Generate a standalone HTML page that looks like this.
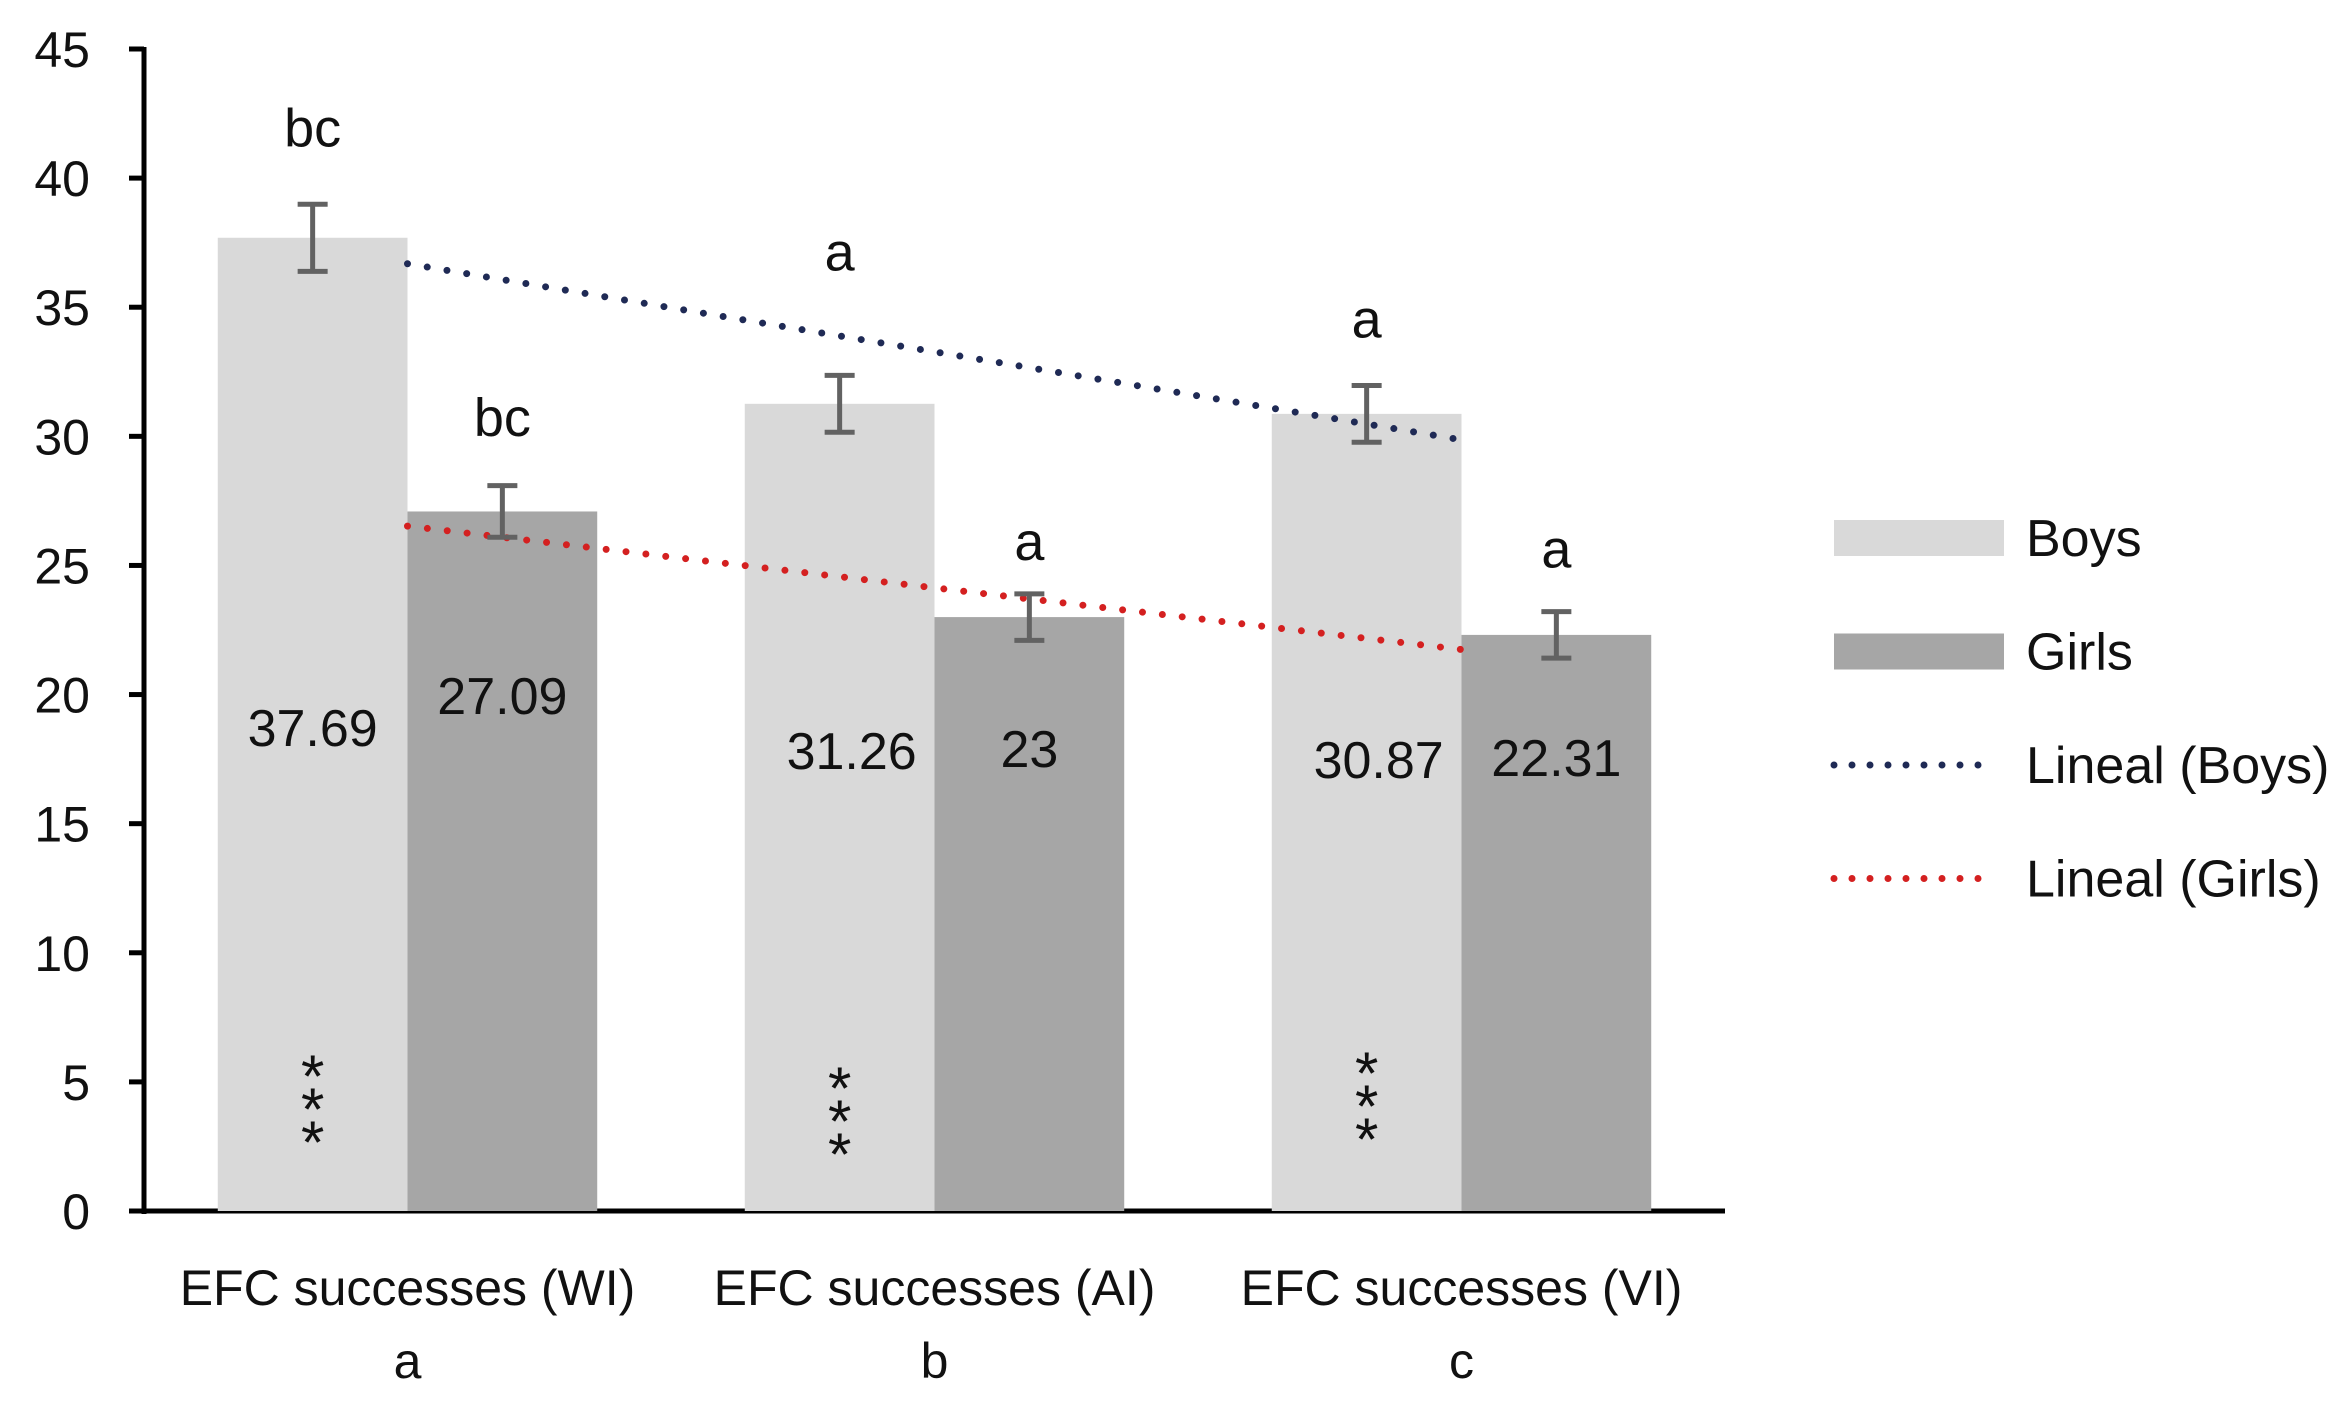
<!DOCTYPE html>
<html><head><meta charset="utf-8"><style>
html,body{margin:0;padding:0;background:#fff;}
svg{display:block;font-family:"Liberation Sans",sans-serif;}
</style></head><body>
<svg id="chart" width="2342" height="1411" viewBox="0 0 2342 1411" xmlns="http://www.w3.org/2000/svg">
<g id="axes"></g><g id="bars"></g><g id="overlay"></g><g id="legend"></g>
</svg>
<script>
const categories = ["EFC successes (WI)", "EFC successes (AI)", "EFC successes (VI)"];
const catLetters = ["a", "b", "c"];
const boys = [37.69, 31.26, 30.87];
const girls = [27.09, 23, 22.31];
const boysErr = [1.3, 1.1, 1.1];
const girlsErr = [1.0, 0.9, 0.9];
const boysLetters = ["bc", "a", "a"];
const girlsLetters = ["bc", "a", "a"];
const boysLetterVal = [41.8, 37.0, 34.4];
const girlsLetterVal = [30.6, 25.8, 25.5];
const yTicks = [0, 5, 10, 15, 20, 25, 30, 35, 40, 45];

const NS = "http://www.w3.org/2000/svg";
const X0 = 144, X1 = 1725, Y0 = 1211, YTOP = 49, YMAX = 45;
const catW = (X1 - X0) / categories.length;
const barW = catW * 0.36;
const boysLabelY = [746, 769, 778];
const girlsLabelY = [714, 767, 776];
const starOff = [0, 12, -3];
function y(v){ return Y0 - (v / YMAX) * (Y0 - YTOP); }
function cx(i){ return X0 + catW * (i + 0.5); }
function mk(tag, attrs, parent, text){
  const e = document.createElementNS(NS, tag);
  for (const k in attrs) e.setAttribute(k, attrs[k]);
  if (text !== undefined) e.textContent = text;
  parent.appendChild(e); return e;
}
const axes = document.getElementById('axes');
const bars = document.getElementById('bars');
const overlay = document.getElementById('overlay');
const legend = document.getElementById('legend');

categories.forEach((c, i) => {
  const b = mk('rect', {x: cx(i) - barW, y: y(boys[i]), width: barW, height: Y0 - y(boys[i]), fill: '#d9d9d9'}, bars);
  
  
  const g = mk('rect', {x: cx(i), y: y(girls[i]), width: barW, height: Y0 - y(girls[i]), fill: '#a6a6a6'}, bars);
  
  
});

const yAxis = mk('line', {x1: X0, y1: YTOP - 2, x2: X0, y2: Y0 + 3, stroke: '#000', 'stroke-width': 5}, axes);


const xAxis = mk('line', {x1: X0 - 15, y1: Y0, x2: X1, y2: Y0, stroke: '#000', 'stroke-width': 5}, axes);


yTicks.forEach(t => {
  mk('line', {x1: X0 - 15, y1: y(t), x2: X0, y2: y(t), stroke: '#000', 'stroke-width': 5}, axes);
  const l = mk('text', {x: 90, y: y(t) + 18, 'text-anchor': 'end', 'font-size': 50, fill: '#111'}, axes, String(t));
  
  
});
categories.forEach((c, i) => {
  const l = mk('text', {x: cx(i), y: 1305, 'text-anchor': 'middle', 'font-size': 50, fill: '#111'}, axes, c);
  
  
  const s = mk('text', {x: cx(i), y: 1378, 'text-anchor': 'middle', 'font-size': 50, fill: '#111'}, axes, catLetters[i]);
  
  
});

function trend(vals){
  const n = vals.length, xs = vals.map((v, i) => i + 1);
  const mx = xs.reduce((a, b) => a + b) / n, my = vals.reduce((a, b) => a + b) / n;
  let num = 0, den = 0;
  xs.forEach((xv, i) => { num += (xv - mx) * (vals[i] - my); den += (xv - mx) ** 2; });
  const s = num / den;
  return [my + s * (1 - mx), my + s * (n - mx)];
}
const tb = trend(boys), tg = trend(girls);
const lb = mk('line', {x1: cx(0), y1: y(tb[0]), x2: cx(categories.length - 1), y2: y(tb[1]), stroke: '#1f2a55', 'stroke-width': 7, 'stroke-linecap': 'round', 'stroke-dasharray': '0 20'}, overlay);


const lg = mk('line', {x1: cx(0), y1: y(tg[0]), x2: cx(categories.length - 1), y2: y(tg[1]), stroke: '#d42020', 'stroke-width': 7, 'stroke-linecap': 'round', 'stroke-dasharray': '0 20'}, overlay);



function errBar(xc, v, e, name){
  const g = mk('g', {stroke: '#626262', 'stroke-width': 5}, overlay);
  
  
  mk('line', {x1: xc, y1: y(v + e), x2: xc, y2: y(v - e)}, g);
  mk('line', {x1: xc - 15, y1: y(v + e), x2: xc + 15, y2: y(v + e)}, g);
  mk('line', {x1: xc - 15, y1: y(v - e), x2: xc + 15, y2: y(v - e)}, g);
}
categories.forEach((c, i) => {
  const bx = cx(i) - barW / 2, gx = cx(i) + barW / 2;
  errBar(bx, boys[i], boysErr[i], 'error-bar-boys');
  errBar(gx, girls[i], girlsErr[i], 'error-bar-girls');
  let t = mk('text', {x: bx, y: y(boysLetterVal[i]) + 15, 'text-anchor': 'middle', 'font-size': 54, fill: '#111'}, overlay, boysLetters[i]);
  
  
  t = mk('text', {x: gx, y: y(girlsLetterVal[i]) + 15, 'text-anchor': 'middle', 'font-size': 54, fill: '#111'}, overlay, girlsLetters[i]);
  
  
  t = mk('text', {x: bx + (i ? 12 : 0), y: boysLabelY[i], 'text-anchor': 'middle', 'font-size': 52, fill: '#111'}, overlay, String(boys[i]));
  
  
  t = mk('text', {x: gx, y: girlsLabelY[i], 'text-anchor': 'middle', 'font-size': 52, fill: '#111'}, overlay, String(girls[i]));
  
  
  const st = mk('g', {}, overlay);
  
  
  for (let k = 0; k < 3; k++) mk('text', {x: bx, y: 1097 + starOff[i] + k * 33, 'text-anchor': 'middle', 'font-size': 60, fill: '#111'}, st, '*');
});

const items = [
  {label: 'Boys', type: 'rect', color: '#d9d9d9'},
  {label: 'Girls', type: 'rect', color: '#a6a6a6'},
  {label: 'Lineal (Boys)', type: 'line', color: '#1f2a55'},
  {label: 'Lineal (Girls)', type: 'line', color: '#d42020'}
];
items.forEach((it, k) => {
  const yc = 538 + k * 113.5;
  const g = mk('g', {}, legend);
  
  
  if (it.type === 'rect') mk('rect', {x: 1834, y: yc - 18, width: 170, height: 36, fill: it.color}, g);
  else mk('line', {x1: 1834, y1: yc, x2: 1996, y2: yc, stroke: it.color, 'stroke-width': 7, 'stroke-linecap': 'round', 'stroke-dasharray': '0 18'}, g);
  mk('text', {x: 2026, y: yc + 18, 'font-size': 52, fill: '#111'}, g, it.label);
});
</script>
</body></html>
